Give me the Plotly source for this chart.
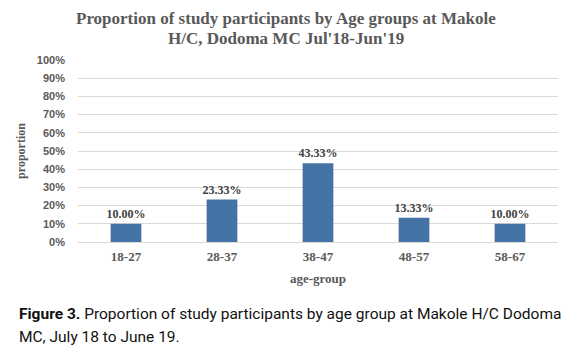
import plotly.graph_objects as go

categories = ["18-27", "28-37", "38-47", "48-57", "58-67"]
proportions = [0.10, 0.2333, 0.4333, 0.1333, 0.10]
labels = ["10.00%", "23.33%", "43.33%", "13.33%", "10.00%"]
y_ticks = [i / 10 for i in range(11)]
y_tick_text = [f"{i*10}%" for i in range(11)]

fig = go.Figure()
fig.add_trace(go.Bar(
    x=categories, y=proportions,
    text=["<b>%s</b>" % t for t in labels], textposition="outside",
    constraintext="none",
    marker=dict(color="#4472A4", line=dict(width=0)),
    textfont=dict(family="Liberation Serif", size=12, color="#404040"),
    cliponaxis=False,
))

# page is offset by 8px body margin; figure sized to fill the remaining window
fig.update_layout(
    width=570, height=350,
    margin=dict(l=68, r=20, t=52, b=116),
    paper_bgcolor="white", plot_bgcolor="white",
    bargap=0.68,
    showlegend=False,
    xaxis=dict(
        tickvals=categories, ticktext=["<b>%s</b>" % c for c in categories],
        tickfont=dict(family="Liberation Serif", size=13, color="#595959"),
        showline=True, linecolor="#d9d9d9", linewidth=1, ticks="",
        ticklabelstandoff=2,
        title=dict(text="<b>age-group</b>", font=dict(family="Liberation Serif", size=13, color="#595959"), standoff=11),
    ),
    yaxis=dict(
        range=[0, 1], tickvals=y_ticks, ticktext=["<b>%s</b>" % t for t in y_tick_text],
        tickfont=dict(family="Liberation Sans", size=11, color="#595959"),
        showgrid=True, gridcolor="#d9d9d9", gridwidth=1, zeroline=False,
        ticks="", ticklabelstandoff=12,
        title=dict(text="<b>proportion</b>", font=dict(family="Liberation Serif", size=12, color="#595959"), standoff=8),
    ),
)

title_font = dict(family="Liberation Serif", size=17, color="#595959")
fig.add_annotation(text="<b>Proportion of study participants by Age groups at Makole</b>",
                   xref="paper", yref="paper", x=0.4326, y=1.2253, xanchor="center", yanchor="middle",
                   showarrow=False, font=title_font)
fig.add_annotation(text="<b>H/C, Dodoma MC Jul'18-Jun'19</b>",
                   xref="paper", yref="paper", x=0.4326, y=1.1154, xanchor="center", yanchor="middle",
                   showarrow=False, font=title_font)

cap_font = dict(family="Roboto", size=15.5, color="#111111")
fig.add_annotation(
    text="<b>Figure 3.</b> Proportion of study participants by age group at Makole H/C Dodoma",
    xref="paper", yref="paper", x=-0.1266, y=-0.3956, xanchor="left", yanchor="middle",
    showarrow=False, font=cap_font,
)
fig.add_annotation(
    text="MC, July 18 to June 19.",
    xref="paper", yref="paper", x=-0.1266, y=-0.522, xanchor="left", yanchor="middle",
    showarrow=False, font=cap_font,
)

fig.write_html("out.html")
